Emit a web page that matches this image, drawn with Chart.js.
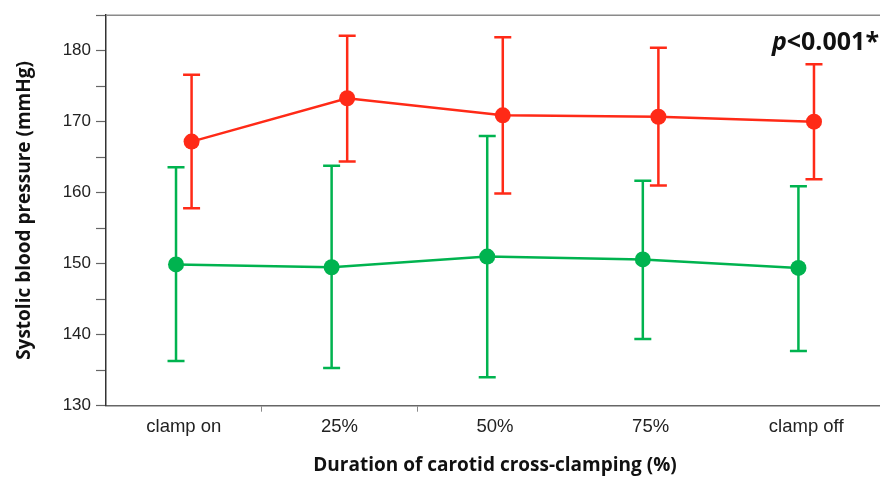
<!DOCTYPE html>
<html>
<head>
<meta charset="utf-8">
<script src="https://cdn.jsdelivr.net/npm/chart.js@4.4.1/dist/chart.umd.min.js"></script>
<style>
  html, body { margin: 0; padding: 0; background: #fff; overflow: hidden; }
  #wrap { width: 892px; height: 477px; }
</style>
</head>
<body>
<div id="wrap"><canvas id="bpChart" width="892" height="477"></canvas></div>
<script>
// Systolic blood pressure during carotid cross-clamping
const categories = ['clamp on', '25%', '50%', '75%', 'clamp off'];

// red group (mean, upper and lower end of the error bar)
const redMean  = [167.2, 173.3, 170.9, 170.7, 170.0];
const redUpper = [176.6, 182.1, 181.9, 180.4, 178.1];
const redLower = [157.8, 164.4, 159.9, 161.0, 161.9];

// green group
const greenMean  = [149.9, 149.5, 151.0, 150.6, 149.4];
const greenUpper = [163.6, 163.8, 168.0, 161.7, 160.9];
const greenLower = [136.3, 135.3, 134.0, 139.4, 137.7];

const yMin = 130, yMax = 185, yStep = 5;

const RED = '#ff2a17';
const GREEN = '#00b34f';

// small side shift so the two groups don't sit on top of each other
const dodge = 0.05;

const errorBars = {
    id: 'errorBars',
    beforeDatasetsDraw(chart) {
        const ctx = chart.ctx;
        const xs = chart.scales.xv;
        const ys = chart.scales.y;
        chart.data.datasets.forEach(ds => {
            ctx.save();
            ctx.strokeStyle = ds.borderColor;
            ctx.lineWidth = 2.5;
            ds.data.forEach((p, i) => {
                const x = xs.getPixelForValue(p.x);
                const top = ys.getPixelForValue(ds.upper[i]);
                const bot = ys.getPixelForValue(ds.lower[i]);
                ctx.beginPath();
                ctx.moveTo(x, top); ctx.lineTo(x, bot);
                ctx.moveTo(x - 8.5, top); ctx.lineTo(x + 8.5, top);
                ctx.moveTo(x - 8.5, bot); ctx.lineTo(x + 8.5, bot);
                ctx.stroke();
            });
            ctx.restore();
        });
    }
};

const frameAndNote = {
    id: 'frameAndNote',
    afterDraw(chart) {
        const ctx = chart.ctx;
        const area = chart.chartArea;
        ctx.save();
        // top frame line
        ctx.strokeStyle = '#8a8a8a';
        ctx.lineWidth = 1.5;
        ctx.beginPath();
        ctx.moveTo(area.left, area.top);
        ctx.lineTo(area.right, area.top);
        ctx.stroke();

        // p-value note, top right
        ctx.fillStyle = '#111';
        ctx.textBaseline = 'alphabetic';
        ctx.textAlign = 'right';
        ctx.font = 'bold 25px "Open Sans"';
        const rest = '<0.001*';
        const xRight = 879, yBase = 50;
        ctx.fillText(rest, xRight, yBase);
        const w = ctx.measureText(rest).width;
        ctx.font = 'italic bold 25px "Open Sans"';
        ctx.fillText('p', xRight - w, yBase);
        ctx.restore();
    }
};

const ctx = document.getElementById('bpChart').getContext('2d');
const bpChart = new Chart(ctx, {
    type: 'line',
    data: {
        datasets: [{
            label: 'Red group',
            data: redMean.map((v, i) => ({ x: i + dodge, y: v })),
            upper: redUpper,
            lower: redLower,
            borderColor: RED,
            backgroundColor: RED,
            borderWidth: 2.5,
            pointRadius: 8,
            pointBorderWidth: 0,
            tension: 0,
            xAxisID: 'xv'
        }, {
            label: 'Green group',
            data: greenMean.map((v, i) => ({ x: i - dodge, y: v })),
            upper: greenUpper,
            lower: greenLower,
            borderColor: GREEN,
            backgroundColor: GREEN,
            borderWidth: 2.5,
            pointRadius: 8,
            pointBorderWidth: 0,
            tension: 0,
            xAxisID: 'xv'
        }]
    },
    options: {
        responsive: false,
        animation: false,
        devicePixelRatio: 1,
        layout: { padding: { left: 0, top: 13, right: 4, bottom: 0 } },
        plugins: {
            legend: { display: false },
            tooltip: { enabled: false }
        },
        scales: {
            x: {
                type: 'category',
                labels: categories,
                offset: true,
                afterFit: s => { s.height = 71.3; },
                ticks: {
                    padding: 4,
                    color: '#222',
                    font: { family: 'Liberation Sans', size: 18.5 }
                },
                grid: {
                    offset: true,
                    drawOnChartArea: false,
                    tickLength: 6,
                    tickColor: c => (c.index === 1 || c.index === 2) ? '#8a8a8a' : 'rgba(0,0,0,0)'
                },
                border: { color: '#666', width: 1.5 },
                title: {
                    display: true,
                    text: 'Duration of carotid cross-clamping (%)',
                    color: '#111',
                    font: { family: 'Open Sans', size: 19, weight: 'bold' },
                    padding: { top: 0, bottom: 0 }
                }
            },
            xv: {
                type: 'linear',
                display: false,
                min: -0.5,
                max: categories.length - 0.5
            },
            y: {
                min: yMin,
                max: yMax,
                afterFit: s => { s.width = 106; },
                ticks: {
                    stepSize: yStep,
                    padding: 5,
                    color: '#222',
                    font: { family: 'Liberation Sans', size: 17 },
                    callback: v => v % 10 === 0 ? v : ''
                },
                grid: {
                    drawOnChartArea: false,
                    tickLength: 10,
                    tickColor: '#666',
                    tickWidth: 1.2
                },
                border: { color: '#333', width: 1.5 },
                title: {
                    display: true,
                    text: 'Systolic blood pressure (mmHg)',
                    color: '#111',
                    font: { family: 'Open Sans', size: 19, weight: 'bold' },
                    padding: { top: 13.5, bottom: 0 }
                }
            }
        }
    },
    plugins: [errorBars, frameAndNote]
});
</script>
</body>
</html>
